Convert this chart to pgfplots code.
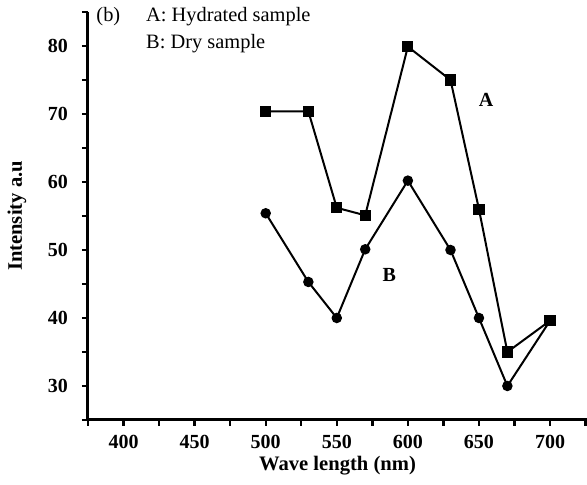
\documentclass[border=0pt]{standalone}
\usepackage{fontspec}
\setmainfont{Liberation Serif}
\usepackage{pgfplots}
\pgfplotsset{compat=1.18}

\pgfplotstableread{
x y
500 70.4
530 70.4
550 56.2
570 55.1
600 79.9
630 75.0
650 56.0
670 35.0
700 39.6
}\hydrated

\pgfplotstableread{
x y
500 55.4
530 45.3
550 40.0
570 50.1
600 60.2
630 50.0
650 40.0
670 30.0
700 39.6
}\dry

\begin{document}
\begin{tikzpicture}
\begin{axis}[
    scale only axis,
    width=249.5pt, height=204pt,
    xmin=375, xmax=726,
    ymin=25, ymax=85,
    axis x line*=bottom,
    axis y line*=left,
    axis line style={line width=1.5pt},
    xtick={400,450,...,700},
    minor xtick={375,425,...,725},
    ytick={30,40,...,80},
    minor ytick={25,35,...,85},
    tick align=outside,
    major tick length=3pt,
    minor tick length=3pt,
    tick style={black, line width=1.2pt},
    minor tick style={black, line width=1.2pt},
    ticklabel style={font=\fontsize{10}{12}\selectfont\bfseries},
    /pgf/number format/assume math mode=true,
    /pgf/number format/1000 sep={},
    xticklabel style={yshift=-1pt},
    yticklabel style={xshift=-3.5pt},
    xlabel={Wave length (nm)},
    ylabel={Intensity a.u},
    label style={font=\fontsize{10.3}{12}\selectfont\bfseries},
    xlabel style={yshift=3pt},
    ylabel style={yshift=4pt},
    clip=false,
]
\addplot[black, line width=1pt, mark=square*, mark size=2.3pt] table[x=x,y=y] {\hydrated};
\addplot[black, line width=1pt, mark=*, mark size=2.1pt] table[x=x,y=y] {\dry};
\node[font=\fontsize{10}{12}\selectfont\bfseries] at (axis cs:655,72) {A};
\node[font=\fontsize{10}{12}\selectfont\bfseries] at (axis cs:587,46.3) {B};
\node[font=\fontsize{10.2}{12}\selectfont, anchor=west] at (axis cs:376,84.3) {(b)};
\node[font=\fontsize{10.2}{12}\selectfont, anchor=west] at (axis cs:411,84.3) {A: Hydrated sample};
\node[font=\fontsize{10.2}{12}\selectfont, anchor=west] at (axis cs:411,80.3) {B: Dry sample};
\coordinate (sw) at (rel axis cs:0,0);
\coordinate (ne) at (rel axis cs:1,1);
\end{axis}
\pgfresetboundingbox
\path ([xshift=-44pt,yshift=-32.5pt]sw) rectangle ([yshift=6pt]ne);
\end{tikzpicture}
\end{document}
